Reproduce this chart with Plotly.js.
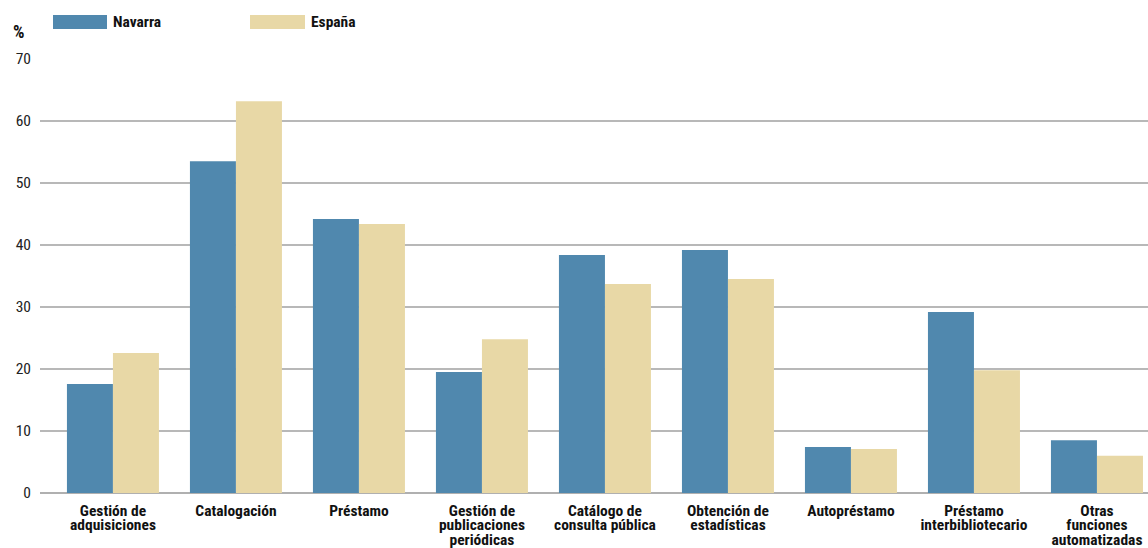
<!DOCTYPE html>
<html><head><meta charset="utf-8">
<script src="https://cdn.plot.ly/plotly-3.0.1.min.js"></script>
<style>html,body{margin:0;padding:0;background:#fff}#c{width:1148px;height:548px}</style>
</head><body><div id="c"></div>
<script>
const categories = ["Gestión de<br>adquisiciones","Catalogación","Préstamo","Gestión de<br>publicaciones<br>periódicas","Catálogo de<br>consulta pública","Obtención de<br>estadísticas","Autopréstamo","Préstamo<br>interbibliotecario","Otras<br>funciones<br>automatizadas"];
const navarra = [17.6, 53.5, 44.2, 19.5, 38.4, 39.2, 7.4, 29.2, 8.5];
const espana = [22.6, 63.2, 43.4, 24.8, 33.7, 34.5, 7.1, 19.8, 6.0];
const seriesNames = ["Navarra","España"];
const colors = ["#5088AE","#E8D8A6"];
const yTicks = [0,10,20,30,40,50,60,70];

const FONT = "'Roboto Condensed','Liberation Sans Narrow',sans-serif";
const traces = [navarra, espana].map((v,i)=>({
  type:"bar", x:categories, y:v, name:seriesNames[i],
  marker:{color:colors[i], line:{width:0}}, hoverinfo:"x+y"
}));
const layout = {
  width:1148, height:548, paper_bgcolor:"#fff", plot_bgcolor:"#fff",
  margin:{l:40, r:0, t:59, b:55},
  barmode:"group", bargap:0.252, bargroupgap:0, showlegend:false,
  font:{family:FONT, color:"#111"},
  xaxis:{range:[-0.593, 8.415], tickfont:{family:FONT, size:15.5, color:"#111", weight:"bold"}, ticks:"", showline:false, automargin:false, tickangle:0, ticklabelstandoff:6},
  yaxis:{range:[0,70], tickvals:yTicks, showgrid:true, gridcolor:"#b8b8b8", gridwidth:1.2,
    zeroline:true, zerolinecolor:"#b0b0b0", zerolinewidth:2, ticks:"", ticklabelstandoff:8,
    tickfont:{family:FONT, size:15.5, color:"#222"}, automargin:false},
  shapes:[
    {type:"rect", xref:"paper", yref:"paper", x0:(53-40)/1108, x1:(107-40)/1108, y0:(493-29)/434, y1:(493-15)/434, fillcolor:colors[0], line:{width:0}},
    {type:"rect", xref:"paper", yref:"paper", x0:(250-40)/1108, x1:(305-40)/1108, y0:(493-29)/434, y1:(493-15)/434, fillcolor:colors[1], line:{width:0}}
  ],
  annotations:[
    {text:"<b>"+seriesNames[0]+"</b>", xref:"paper", yref:"paper", x:(111-40)/1108, y:(493-22)/434, xanchor:"left", yanchor:"middle", showarrow:false, font:{family:FONT,size:15.5,color:"#111"}},
    {text:"<b>"+seriesNames[1]+"</b>", xref:"paper", yref:"paper", x:(309-40)/1108, y:(493-22)/434, xanchor:"left", yanchor:"middle", showarrow:false, font:{family:FONT,size:15.5,color:"#111"}},
    {text:"<b>%</b>", xref:"paper", yref:"paper", x:(11-40)/1108, y:(493-32)/434, xanchor:"left", yanchor:"middle", showarrow:false, font:{family:FONT,size:18,color:"#111"}}
  ]
};
Plotly.newPlot("c", traces, layout, {displayModeBar:false, staticPlot:true}).then(()=>{
  document.querySelectorAll(".xtick text tspan.line").forEach(t=>{
    const dy = t.getAttribute("dy");
    if (dy && parseFloat(dy) > 0) {
      const n = parseFloat(dy) / 1.3;
      t.setAttribute("dy", (n * 0.95).toFixed(3) + "em");
    }
  });
});
</script></body></html>
